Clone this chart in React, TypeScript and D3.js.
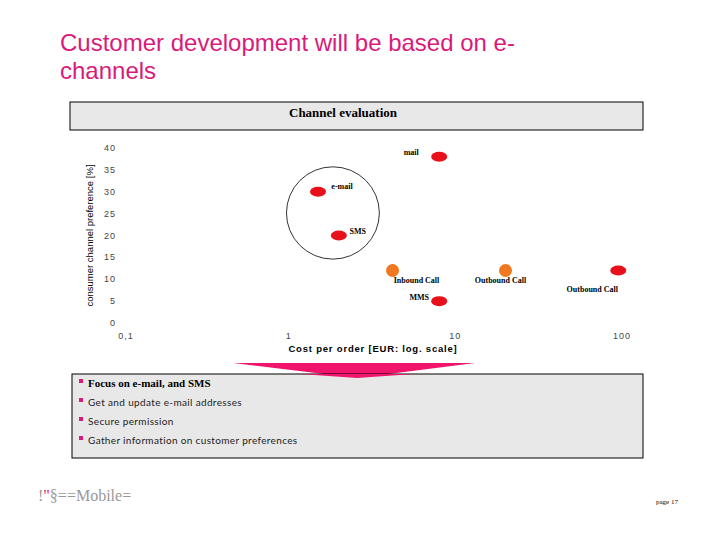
import React, { useEffect, useRef } from 'react';
import * as d3 from 'd3';

// channel evaluation data
const channels = ['mail', 'e-mail', 'SMS', 'Inbound Call', 'Outbound Call', 'Outbound Call', 'MMS'];
const costPerOrder = [8, 1.5, 2, 4.2, 20, 95, 8];
const preference = [38, 30, 20, 12, 12, 12, 5];
const channelGroup = ['red', 'red', 'red', 'orange', 'orange', 'red', 'red'];

const xTicks = [0.1, 1, 10, 100];
const xTickLabels = ['0,1', '1', '10', '100'];
const yTicks = [0, 5, 10, 15, 20, 25, 30, 35, 40];

// e-channel cluster (data bounds of the ellipse)
const clusterCost = [0.97, 3.5];
const clusterPref = [14.6, 35.7];

const bullets = [
    'Focus on e-mail, and SMS',
    'Get and update e-mail addresses',
    'Secure permission',
    'Gather information on customer preferences'
];

const MAGENTA = '#d81b7a';

// label placement relative to the point
const labelPos: { dx: number; dy: number }[] = [
    { dx: -28, dy: -2 },
    { dx: 24, dy: -3 },
    { dx: 19, dy: -2 },
    { dx: 24, dy: 12 },
    { dx: -5, dy: 12 },
    { dx: -26, dy: 21 },
    { dx: -20, dy: -1 }
];

const App: React.FC = () => {
    const svgRef = useRef<SVGSVGElement>(null);

    useEffect(() => {
        if (!svgRef.current) return;
        const svg = d3.select(svgRef.current);
        svg.selectAll('*').remove();

        svg.append('rect').attr('width', 720).attr('height', 540).attr('fill', '#fff');

        // slide title
        const title = svg.append('text')
            .attr('fill', MAGENTA)
            .style('font-family', 'Liberation Sans, Arial, sans-serif')
            .style('font-size', '24px');
        title.append('tspan').attr('x', 60).attr('y', 51).text('Customer development will be based on e-');
        title.append('tspan').attr('x', 60).attr('y', 79).text('channels');

        // chart header box
        svg.append('rect')
            .attr('x', 70).attr('y', 102).attr('width', 573).attr('height', 28)
            .attr('fill', '#e8e8e8').attr('stroke', '#000').attr('stroke-width', 1);
        svg.append('text')
            .attr('x', 343).attr('y', 117)
            .attr('text-anchor', 'middle')
            .style('font-family', 'Liberation Serif, Times New Roman, serif')
            .style('font-size', '13px')
            .style('font-weight', 'bold')
            .text('Channel evaluation');

        const x = d3.scaleLog().domain([0.1, 100]).range([122, 622]);
        const y = d3.scaleLinear().domain([0, 40]).range([323, 148]);

        const axisFont = 'Liberation Sans, Arial, sans-serif';

        // y tick labels
        svg.append('g').selectAll('text')
            .data(yTicks)
            .join('text')
            .attr('x', 116)
            .attr('y', d => y(d) + 3)
            .attr('text-anchor', 'end')
            .attr('fill', '#444')
            .style('font-family', axisFont)
            .style('font-size', '9px')
            .style('letter-spacing', '1px')
            .text(d => String(d));

        // x tick labels
        svg.append('g').selectAll('text')
            .data(xTicks)
            .join('text')
            .attr('x', (d, i) => x(d) + (i === 0 ? 4 : 0))
            .attr('y', 339)
            .attr('text-anchor', 'middle')
            .attr('fill', '#444')
            .style('font-family', axisFont)
            .style('font-size', '9px')
            .style('letter-spacing', '1px')
            .text((d, i) => xTickLabels[i]);

        // axis titles
        svg.append('text')
            .attr('transform', `translate(93,${y(20)}) rotate(-90)`)
            .attr('text-anchor', 'middle')
            .style('font-family', axisFont)
            .style('font-size', '9.5px')
            .text('consumer channel preference [%]');
        svg.append('text')
            .attr('x', 373).attr('y', 352)
            .attr('text-anchor', 'middle')
            .style('font-family', axisFont)
            .style('font-size', '9.5px')
            .style('font-weight', 'bold')
            .style('letter-spacing', '0.8px')
            .text('Cost per order [EUR: log. scale]');

        // cluster ellipse
        const cx0 = x(clusterCost[0]), cx1 = x(clusterCost[1]);
        const cy0 = y(clusterPref[1]), cy1 = y(clusterPref[0]);
        svg.append('ellipse')
            .attr('cx', (cx0 + cx1) / 2).attr('cy', (cy0 + cy1) / 2)
            .attr('rx', (cx1 - cx0) / 2).attr('ry', (cy1 - cy0) / 2)
            .attr('fill', 'none').attr('stroke', '#000').attr('stroke-width', 0.8);

        // points
        const idx = d3.range(channels.length);
        svg.append('g').selectAll('ellipse')
            .data(idx)
            .join('ellipse')
            .attr('cx', i => x(costPerOrder[i]))
            .attr('cy', i => y(preference[i]))
            .attr('rx', i => channelGroup[i] === 'orange' ? 6.5 : 8)
            .attr('ry', i => channelGroup[i] === 'orange' ? 6.5 : 5)
            .attr('fill', i => channelGroup[i] === 'orange' ? '#f07820' : '#e8101a');

        svg.append('g').selectAll('text')
            .data(idx)
            .join('text')
            .attr('x', i => x(costPerOrder[i]) + labelPos[i].dx)
            .attr('y', i => y(preference[i]) + labelPos[i].dy)
            .attr('text-anchor', 'middle')
            .style('font-family', 'Liberation Serif, Times New Roman, serif')
            .style('font-size', '8px')
            .style('font-weight', 'bold')
            .text(i => channels[i]);

        // pink arrow
        svg.append('path')
            .attr('d', 'M233,363 L475,363 L357,378 Z')
            .attr('fill', '#f0146c');

        // conclusion box
        svg.append('rect')
            .attr('x', 72).attr('y', 374).attr('width', 571).attr('height', 84)
            .attr('fill', '#e8e8e8').attr('stroke', '#000').attr('stroke-width', 1);
        // arrow tip over the box edge
        svg.append('path')
            .attr('d', 'M300,374 L414,374 L357,378 Z')
            .attr('fill', '#f0146c');

        const by = d3.scaleLinear().domain([0, 3]).range([387, 444]);
        const bg = svg.append('g');
        bullets.forEach((b, i) => {
            bg.append('rect')
                .attr('x', 79).attr('y', by(i) - 8).attr('width', 4).attr('height', 4)
                .attr('fill', MAGENTA);
            bg.append('text')
                .attr('x', 88).attr('y', by(i))
                .style('font-family', i === 0 ? 'Liberation Serif, serif' : 'Lato, sans-serif')
                .style('font-size', i === 0 ? '11px' : '10px')
                .style('font-weight', i === 0 ? 'bold' : 'normal')
                .style('letter-spacing', i === 0 ? '0px' : '0.35px')
                .attr('fill', i === 0 ? '#000' : '#222')
                .text(b);
        });

        // footer
        const logo = svg.append('text')
            .attr('x', 38).attr('y', 501)
            .style('font-family', 'Liberation Serif, serif')
            .style('font-size', '16px')
            .attr('fill', '#999');
        logo.append('tspan').text('!');
        logo.append('tspan').attr('fill', MAGENTA).text('"');
        logo.append('tspan').text('§==Mobile=');

        svg.append('text')
            .attr('x', 656).attr('y', 504)
            .style('font-family', 'Liberation Serif, serif')
            .style('font-size', '7px')
            .text('page 17');
    }, []);

    return (
        <svg ref={svgRef} width={720} height={540}
            style={{ position: 'absolute', left: 0, top: 0, display: 'block' }} />
    );
};

export default App;
